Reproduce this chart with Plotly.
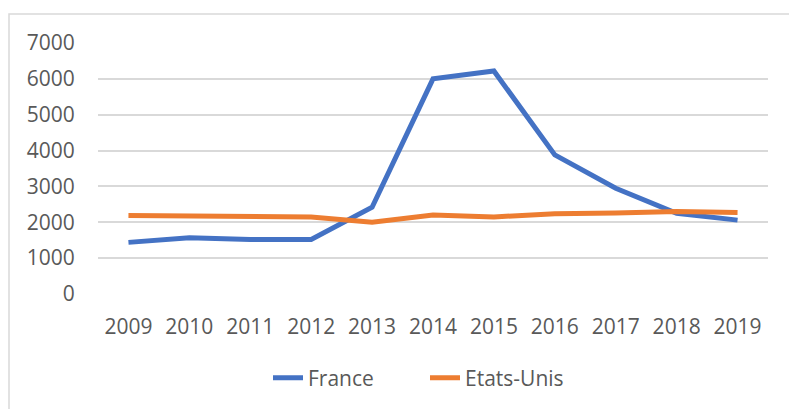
import plotly.graph_objects as go

years = ["2009", "2010", "2011", "2012", "2013", "2014", "2015", "2016", "2017", "2018", "2019"]
france = [1440, 1570, 1520, 1520, 2420, 6000, 6220, 3880, 2950, 2250, 2060]
etats_unis = [2190, 2170, 2170, 2150, 2000, 2200, 2150, 2240, 2260, 2300, 2270]
y_ticks = [0, 1000, 2000, 3000, 4000, 5000, 6000, 7000]

FONT = "Open Sans"
fig = go.Figure()
fig.add_trace(go.Scatter(x=years, y=france, mode="lines", name="France",
                         line=dict(color="#4472C4", width=5)))
fig.add_trace(go.Scatter(x=years, y=etats_unis, mode="lines", name="Etats-Unis",
                         line=dict(color="#ED7D31", width=5)))

fig.update_layout(
    width=789, height=409,
    paper_bgcolor="white", plot_bgcolor="white",
    margin=dict(l=98, r=21, t=43, b=115, autoexpand=False),
    font=dict(family=FONT, size=21, color="#595959"),
    showlegend=True,
    legend=dict(orientation="h", x=(268 - 98) / 670, xanchor="left", y=-0.335, yanchor="middle",
                font=dict(size=21, color="#595959"), traceorder="normal",
                entrywidth=112, entrywidthmode="pixels"),
    xaxis=dict(type="category", range=[-0.5, 10.5], showgrid=False, zeroline=False,
               showline=False, automargin=False,
               ticks="outside", ticklen=14, tickcolor="rgba(0,0,0,0)",
               tickfont=dict(size=21, color="#595959")),
    yaxis=dict(range=[0, 7000], tickvals=y_ticks, showgrid=True, gridcolor="#d9d9d9",
               gridwidth=1.5, zeroline=False, showline=False, automargin=False,
               ticks="outside", ticklen=18, tickcolor="rgba(0,0,0,0)",
               tickfont=dict(size=21, color="#595959")),
    shapes=[dict(type="rect", xref="paper", yref="paper",
                 x0=-89/670, x1=1.2, y0=-0.5, y1=1 + 29/251,
                 line=dict(color="#d9d9d9", width=1.5), fillcolor="rgba(0,0,0,0)",
                 layer="below")],
)

fig.write_html("out.html", config={"displayModeBar": False},
               post_script="document.body.style.margin='0';document.body.style.overflow='hidden';")
